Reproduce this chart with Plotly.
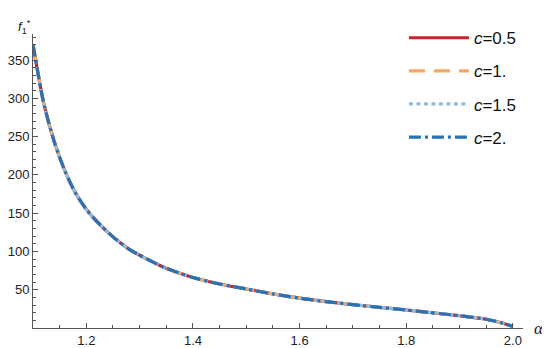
import plotly.graph_objects as go

# values (all four curves coincide)
alpha = [1.10, 1.12, 1.14, 1.16, 1.18, 1.20, 1.22, 1.25, 1.28, 1.30, 1.35, 1.40,
         1.45, 1.50, 1.55, 1.60, 1.65, 1.70, 1.75, 1.80, 1.85, 1.90, 1.95, 1.98, 2.00]
f1 = [370, 294, 243, 205, 176, 155, 139, 119, 103, 95, 78, 66,
      57.5, 51, 44.5, 39, 34.5, 30.5, 27, 23.5, 19.8, 16, 11.5, 6.5, 2]
c_labels = ["0.5", "1.", "1.5", "2."]

colors = ["#CC2229", "#F5A864", "#8FBBE0", "#2A72B8"]
dashes = ["solid", "16px,9px", "4px,3.5px", "12px,4px,3px,4px"]

fig = go.Figure()
for i, c in enumerate(c_labels):
    fig.add_trace(go.Scatter(
        x=alpha, y=f1, mode="lines",
        line=dict(color=colors[i], width=3.2, dash=dashes[i], shape="spline", smoothing=0.7),
        name=f"<i>c</i>=" + c, legendgroup=f"g{i}", hoverinfo="skip"))

axis_col = "#555555"
fig.update_xaxes(range=[1.1, 2.019], showline=True, linecolor=axis_col, linewidth=1,
                 ticks="inside", ticklen=5, tickcolor=axis_col, showgrid=False, zeroline=False,
                 automargin=False,
                 tickvals=[1.2, 1.4, 1.6, 1.8, 2.0], ticktext=["1.2", "1.4", "1.6", "1.8", "2.0"],
                 minor=dict(tickvals=[1.15, 1.25, 1.3, 1.35, 1.45, 1.5, 1.55, 1.65, 1.7, 1.75,
                                      1.85, 1.9, 1.95], ticks="inside", ticklen=3, tickcolor=axis_col),
                 tickfont=dict(family="Liberation Sans", size=13, color="#222"))
fig.update_yaxes(range=[0, 384], showline=True, linecolor=axis_col, linewidth=1,
                 ticks="inside", ticklen=5, tickcolor=axis_col, showgrid=False, zeroline=False,
                 automargin=False,
                 tickvals=[50, 100, 150, 200, 250, 300, 350],
                 minor=dict(dtick=10, ticks="inside", ticklen=3, tickcolor=axis_col),
                 tickfont=dict(family="Liberation Sans", size=13, color="#222"))

fig.add_annotation(x=1, xref="paper", y=0, yref="paper", text="<i>α</i>", showarrow=False,
                   xanchor="left", yanchor="middle", xshift=9,
                   font=dict(family="Liberation Serif", size=17, color="#222"))
fig.add_annotation(x=0, xref="paper", y=1, yref="paper", text="<i>f</i><sub>1</sub><sup>*</sup>",
                   showarrow=False, xanchor="right", yanchor="bottom", xshift=0, yshift=-4,
                   font=dict(family="Liberation Sans", size=13, color="#222"))

# page body has an 8px margin, so the figure is 8px smaller than the window
fig.update_layout(width=542, height=340, margin=dict(l=25, r=27, t=12, b=20),
                  plot_bgcolor="white", paper_bgcolor="white",
                  legend=dict(x=0.757, y=1.047, xanchor="left", yanchor="top", itemwidth=60,
                              bgcolor="rgba(0,0,0,0)", tracegroupgap=8,
                              font=dict(family="Liberation Sans", size=17, color="#111")))

fig.write_html("out.html")
